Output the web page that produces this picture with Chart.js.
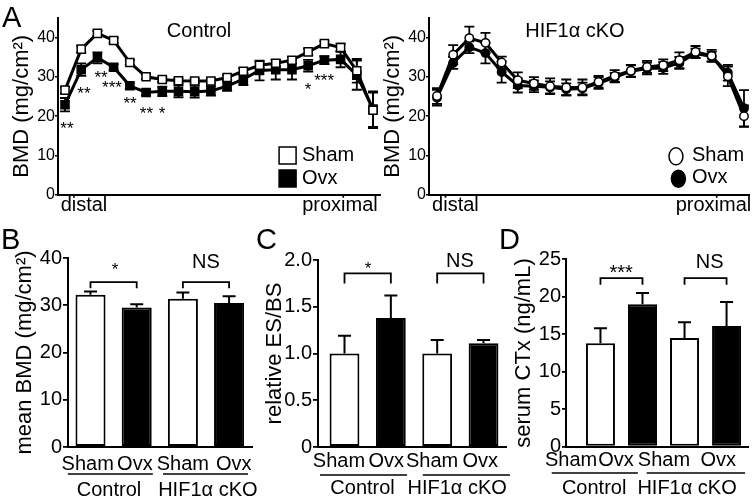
<!DOCTYPE html>
<html>
<head>
<meta charset="utf-8">
<script src="https://cdn.jsdelivr.net/npm/chart.js@4.4.0/dist/chart.umd.min.js"></script>
<style>
  body { margin: 0; background: #fff; }
  #fig { position: relative; width: 756px; height: 499px; overflow: hidden; font-family: 'Liberation Sans', Arial, sans-serif; }
  #fig canvas { position: absolute; left: 0; top: 0; }
  .panel { position: absolute; font-size: 29px; line-height: 1; }
</style>
</head>
<body>
<div id="fig">
  <canvas id="bmdCtrl" width="756" height="499"></canvas>
  <canvas id="bmdHif" width="756" height="499"></canvas>
  <canvas id="meanBmd" width="756" height="499"></canvas>
  <canvas id="esbsChart" width="756" height="499"></canvas>
  <canvas id="ctxChart" width="756" height="499"></canvas>
  <div class="panel" style="left:2px;top:3px">A</div>
  <div class="panel" style="left:1px;top:225px">B</div>
  <div class="panel" style="left:256px;top:225px">C</div>
  <div class="panel" style="left:499px;top:225px">D</div>
</div>
<script>
// --- data ---
const segments = [1, 2, 3, 4, 5, 6, 7, 8, 9, 10, 11, 12, 13, 14, 15, 16, 17, 18, 19, 20];
const endLabels = ['distal', 'proximal'];
const bmdTicks = [0, 10, 20, 30, 40];

const ctrlSham    = [26.6, 37.0, 41.0, 39.2, 33.6, 30.0, 29.3, 29.0, 28.9, 28.9, 29.8, 31.4, 32.9, 33.4, 34.2, 36.3, 38.4, 37.4, 31.5, 21.5];
const ctrlShamErr = [0.8, 0.8, 0.6, 0.6, 0.6, 0.6, 0.6, 0.6, 0.6, 0.6, 0.6, 0.8, 0.8, 0.8, 0.8, 0.8, 0.6, 1.0, 3.0, 4.5];
const ctrlOvx     = [22.9, 31.8, 34.8, 32.4, 27.7, 26.0, 26.3, 26.3, 26.2, 26.4, 27.6, 29.4, 31.6, 31.8, 31.8, 32.8, 34.2, 34.4, 30.4, 21.8];
const ctrlOvxErr  = [1.7, 1.6, 1.4, 0.8, 0.8, 0.8, 1.2, 1.5, 1.5, 1.2, 1.2, 1.5, 2.5, 2.5, 2.5, 1.5, 1.0, 2.0, 3.7, 4.5];
const hifSham     = [25.1, 35.6, 39.8, 38.6, 33.6, 29.1, 28.3, 27.6, 27.3, 27.3, 28.7, 30.2, 31.5, 32.5, 32.9, 34.2, 36.3, 35.3, 30.1, 20.0];
const hifShamErr  = [2.0, 2.4, 2.9, 2.5, 1.5, 2.0, 1.6, 2.0, 2.0, 2.0, 1.5, 1.5, 1.5, 1.5, 1.5, 2.0, 1.5, 1.5, 2.5, 2.7];
const hifOvx      = [24.7, 33.5, 37.5, 36.0, 31.2, 27.8, 27.6, 27.3, 26.8, 27.0, 28.4, 29.8, 31.4, 32.1, 32.2, 33.5, 35.9, 35.1, 31.0, 22.0];
const hifOvxErr   = [2.0, 1.5, 1.5, 2.6, 2.7, 1.8, 1.5, 1.5, 1.5, 1.5, 1.5, 1.2, 1.5, 1.5, 1.5, 1.5, 1.2, 1.2, 2.0, 4.6];

const groups = ['Sham', 'Ovx', 'Sham', 'Ovx'];
const genotypes = ['Control', 'HIF1α cKO'];
const meanBmdVals = [32.2, 29.5, 31.4, 30.5];
const meanBmdErr  = [0.7, 0.7, 1.3, 1.4];
const esbsVals    = [1.0, 1.38, 1.0, 1.11];
const esbsErr     = [0.19, 0.24, 0.145, 0.035];
const esbsTicks   = ['0', '0.5', '1.0', '1.5', '2.0'];
const ctxVals     = [13.8, 19.0, 14.5, 16.1];
const ctxErr      = [2.0, 1.5, 2.1, 3.2];

const FONT = "'Liberation Sans', Arial, sans-serif";
Chart.defaults.font.family = FONT;
Chart.defaults.color = '#000';
Chart.defaults.animation = false;
Chart.defaults.responsive = false;
Chart.defaults.plugins.legend.display = false;
Chart.defaults.plugins.tooltip.enabled = false;

// error bars, significance marks, legends, underlines
const extras = {
  id: 'extras',
  beforeDatasetsDraw(chart) {
    const ctx = chart.ctx, ys = chart.scales.y;
    chart.data.datasets.forEach((ds, di) => {
      if (!ds.errors) return;
      const cap = ds.capHalf || 5;
      ctx.save();
      ctx.strokeStyle = '#000';
      ctx.lineWidth = ds.errorWidth || 1.8;
      chart.getDatasetMeta(di).data.forEach((el, i) => {
        const v = ds.data[i].y, e = ds.errors[i];
        const top = ys.getPixelForValue(v + e);
        const bot = ys.getPixelForValue(ds.upOnly ? v : v - e);
        ctx.beginPath();
        ctx.moveTo(el.x, top); ctx.lineTo(el.x, bot);
        ctx.moveTo(el.x - cap, top); ctx.lineTo(el.x + cap, top);
        if (!ds.upOnly) { ctx.moveTo(el.x - cap, bot); ctx.lineTo(el.x + cap, bot); }
        ctx.stroke();
      });
      ctx.restore();
    });
  },
  afterDraw(chart, args, o) {
    const ctx = chart.ctx, xs = chart.scales.x, ys = chart.scales.y;
    ctx.save();
    ctx.fillStyle = '#000';
    ctx.strokeStyle = '#000';
    (o.texts || []).forEach(t => {
      const size = t.size || 20;
      ctx.font = size + 'px ' + FONT;
      ctx.textAlign = t.align || 'center';
      let py = ys.getPixelForValue(t.y);
      if (t.star) { ctx.textBaseline = 'alphabetic'; py += 0.585 * size; }
      else ctx.textBaseline = 'middle';
      ctx.fillText(t.text, xs.getPixelForValue(t.x), py);
    });
    (o.brackets || []).forEach(b => {
      const x1 = xs.getPixelForValue(b.from), x2 = xs.getPixelForValue(b.to);
      const y1 = ys.getPixelForValue(b.y), y2 = ys.getPixelForValue(b.tail);
      ctx.lineWidth = 1.8;
      ctx.beginPath();
      ctx.moveTo(x1, y2); ctx.lineTo(x1, y1); ctx.lineTo(x2, y1); ctx.lineTo(x2, y2);
      ctx.stroke();
    });
    (o.underlines || []).forEach(u => {
      const yy = xs.bottom;
      ctx.lineWidth = 1.5;
      ctx.beginPath();
      ctx.moveTo(xs.getPixelForValue(u[0]), yy);
      ctx.lineTo(xs.getPixelForValue(u[1]), yy);
      ctx.stroke();
    });
    (o.legend || []).forEach(L => {
      const ds = chart.data.datasets[L.ds];
      const px = xs.getPixelForValue(L.x), py = ys.getPixelForValue(L.y);
      ctx.fillStyle = ds.pointBackgroundColor;
      ctx.lineWidth = 1.5;
      ctx.beginPath();
      if (ds.pointStyle === 'rect') ctx.rect(px - 8.5, py - 8.5, 17, 17);
      else ctx.ellipse(px, py, 7, 8.5, 0, 0, Math.PI * 2);
      ctx.fill(); ctx.stroke();
      ctx.fillStyle = '#000';
      ctx.font = '20px ' + FONT;
      ctx.textAlign = 'left';
      ctx.textBaseline = 'middle';
      ctx.fillText(ds.label, xs.getPixelForValue(L.tx), ys.getPixelForValue(L.ty));
    });
    ctx.restore();
  }
};

function profileChart(id, sham, shamErr, ovx, ovxErr, o) {
  const pts = vals => vals.map((v, i) => ({x: segments[i], y: v}));
  const series = (label, vals, errs, fill) => ({
    label, data: pts(vals), errors: errs, capHalf: 5,
    borderColor: '#000', borderWidth: 3, tension: 0,
    pointStyle: o.marker, pointRadius: o.radius,
    pointBackgroundColor: fill, pointBorderColor: '#000', pointBorderWidth: 1.5,
    clip: false
  });
  return new Chart(document.getElementById(id), {
    type: 'line',
    data: { datasets: [series('Sham', sham, shamErr, '#fff'), series('Ovx', ovx, ovxErr, '#000')] },
    options: {
      layout: { padding: { left: o.padL, top: 17.6, right: 756 - o.right, bottom: 499 - 195 - 30 } },
      scales: {
        x: {
          type: 'linear', min: o.min, max: o.max,
          afterBuildTicks: s => { s.ticks = o.endAt.map(v => ({value: v})); },
          afterFit: s => { s.height = 30; },
          grid: { display: false, drawTicks: false },
          border: { color: '#000', width: 2 },
          ticks: { autoSkip: false, maxRotation: 0, padding: 0, font: { size: 20, lineHeight: 1 },
                   callback: (v, i) => endLabels[i] }
        },
        y: {
          min: 0, max: 45,
          afterFit: s => { s.width = o.yW; },
          grid: { drawOnChartArea: false, tickLength: 3, color: '#000', lineWidth: 1.5 },
          border: { color: '#000', width: 2 },
          ticks: { stepSize: 5, padding: 0, font: { size: 16 },
                   callback: v => bmdTicks.includes(v) ? String(v) : '' },
          title: { display: true, text: 'BMD (mg/cm²)', font: { size: 22 }, padding: { top: o.titlePad, bottom: 0 } }
        }
      },
      plugins: { extras: o.extras }
    },
    plugins: [extras]
  });
}

function barChart(id, vals, errs, o) {
  return new Chart(document.getElementById(id), {
    type: 'bar',
    data: { datasets: [{
      xAxisID: 'x', yAxisID: 'y',
      data: vals.map((v, i) => ({x: i, y: v})), errors: errs, upOnly: true, capHalf: 6.5, errorWidth: 2,
      backgroundColor: groups.map(g => g === 'Sham' ? '#fff' : '#000'),
      borderColor: '#000', borderWidth: 2, borderSkipped: false,
      categoryPercentage: 1, barPercentage: o.barPct, clip: false
    }] },
    options: {
      layout: { padding: { left: o.padL, top: o.top, right: 756 - o.right, bottom: 0 } },
      scales: {
        x: {
          type: 'linear', position: 'bottom', weight: 0, offset: false, min: o.min, max: o.max,
          afterBuildTicks: s => { s.ticks = o.labelAt.map(v => ({value: v})); },
          afterFit: s => { s.height = o.h1; },
          grid: { display: false, drawTicks: false, offset: false },
          border: { color: '#000', width: 2 },
          ticks: { autoSkip: false, maxRotation: 0, padding: o.pad1, font: { size: 20 },
                   callback: (v, i) => groups[i] }
        },
        g: {
          type: 'linear', position: 'bottom', weight: 1, offset: false, min: o.min, max: o.max,
          afterBuildTicks: s => { s.ticks = o.groupAt.map(v => ({value: v})); },
          afterFit: s => { s.height = 499 - o.bottom - o.h1; },
          grid: { display: false, drawTicks: false },
          border: { display: false },
          ticks: { autoSkip: false, maxRotation: 0, padding: o.pad2, font: { size: 20 },
                   callback: (v, i) => genotypes[i] }
        },
        y: {
          min: 0, max: o.yMax,
          afterFit: s => { s.width = o.yW; },
          grid: { drawOnChartArea: false, tickLength: o.tickLen, color: '#000', lineWidth: 1.8 },
          border: { color: '#000', width: 2 },
          ticks: { stepSize: o.step, padding: 1, font: { size: 20 }, callback: o.tickCb },
          title: { display: true, text: o.title, font: { size: 22 }, padding: { top: o.titlePad, bottom: 0 } }
        }
      },
      plugins: { extras: o.extras }
    },
    plugins: [extras]
  });
}

// A: BMD profiles
profileChart('bmdCtrl', ctrlSham, ctrlShamErr, ctrlOvx, ctrlOvxErr, {
  padL: 0, yW: 58, right: 380, min: 0.568, max: 20.43, titlePad: 9,
  marker: 'rect', radius: 5.7, endAt: [2.17, 17.96],
  extras: {
    texts: [
      { text: 'Control', x: 9.27, y: 41.5 },
      { text: '**', x: 1.12, y: 17.9, size: 17, star: true },
      { text: '**', x: 2.17, y: 26.8, size: 17, star: true },
      { text: '**', x: 3.22, y: 31.0, size: 17, star: true },
      { text: '***', x: 3.90, y: 28.5, size: 17, star: true },
      { text: '**', x: 5.01, y: 24.3, size: 17, star: true },
      { text: '**', x: 6.02, y: 21.8, size: 17, star: true },
      { text: '*', x: 6.98, y: 21.8, size: 17, star: true },
      { text: '*', x: 15.99, y: 27.9, size: 17, star: true },
      { text: '***', x: 16.98, y: 30.2, size: 17, star: true }
    ],
    legend: [
      { ds: 0, x: 14.73, y: 10.0, tx: 15.62, ty: 10.0 },
      { ds: 1, x: 14.73, y: 4.2, tx: 15.62, ty: 4.2 }
    ]
  }
});

profileChart('bmdHif', hifSham, hifShamErr, hifOvx, hifOvxErr, {
  padL: 376, yW: 53, right: 749, min: 0.505, max: 20.31, titlePad: 4,
  marker: 'circle', radius: 4.2, endAt: [2.14, 18.11],
  extras: {
    texts: [ { text: 'HIF1α cKO', x: 9.54, y: 41.5 } ],
    legend: [
      { ds: 0, x: 15.79, y: 9.8, tx: 16.78, ty: 10.0 },
      { ds: 1, x: 15.94, y: 4.1, tx: 16.78, ty: 4.4 }
    ]
  }
});

// B: mean BMD
barChart('meanBmd', meanBmdVals, meanBmdErr, {
  padL: 0, yW: 68, right: 252.2, top: 258, bottom: 447, min: -0.487, max: 3.5,
  barPct: 0.65, h1: 27, pad1: 5, pad2: 4,
  labelAt: [-0.06, 0.96, 2.0, 3.1], groupAt: [0.40, 2.54],
  yMax: 40, step: 10, tickLen: 5, titlePad: 12, title: 'mean BMD (mg/cm²)',
  tickCb: v => String(v),
  extras: {
    brackets: [ { from: 0, to: 1, y: 34.9, tail: 33.6 }, { from: 2, to: 3, y: 34.9, tail: 33.6 } ],
    texts: [ { text: '*', x: 0.53, y: 38.5, size: 17, star: true }, { text: 'NS', x: 2.5, y: 39.15 } ],
    underlines: [ [-0.49, 1.35], [1.57, 3.41] ]
  }
});

// C: relative ES/BS
barChart('esbsChart', esbsVals, esbsErr, {
  padL: 250, yW: 68, right: 506.7, top: 260, bottom: 447, min: -0.572, max: 3.5,
  barPct: 0.65, h1: 28, pad1: 2, pad2: 1,
  labelAt: [-0.12, 0.9, 1.89, 2.93], groupAt: [0.39, 2.43],
  yMax: 2, step: 0.5, tickLen: 5, titlePad: 12, title: 'relative ES/BS',
  tickCb: (v, i) => esbsTicks[i],
  extras: {
    brackets: [ { from: 0, to: 1, y: 1.857, tail: 1.75 }, { from: 2, to: 3, y: 1.857, tail: 1.75 } ],
    texts: [ { text: '*', x: 0.51, y: 1.957, size: 17, star: true }, { text: 'NS', x: 2.49, y: 1.98 } ],
    underlines: [ [-0.53, 1.35], [1.69, 3.57] ]
  }
});

// D: serum CTx
barChart('ctxChart', ctxVals, ctxErr, {
  padL: 500, yW: 66, right: 748, top: 259.3, bottom: 446.7, min: -0.82, max: 3.51,
  barPct: 0.69, h1: 26.3, pad1: 1.3, pad2: 3,
  labelAt: [-0.70, 0.37, 1.51, 2.8], groupAt: [-0.15, 2.06],
  yMax: 25, step: 5, tickLen: 4, titlePad: 11, title: 'serum CTx (ng/mL)',
  tickCb: v => String(v),
  extras: {
    brackets: [ { from: 0, to: 1, y: 22.5, tail: 21.6 }, { from: 2, to: 3, y: 22.5, tail: 21.6 } ],
    texts: [ { text: '***', x: 0.49, y: 23.96, size: 20, star: true }, { text: 'NS', x: 2.6, y: 24.6 } ],
    underlines: [ [-1.16, 0.89], [1.1, 3.44] ]
  }
});
</script>
</body>
</html>
